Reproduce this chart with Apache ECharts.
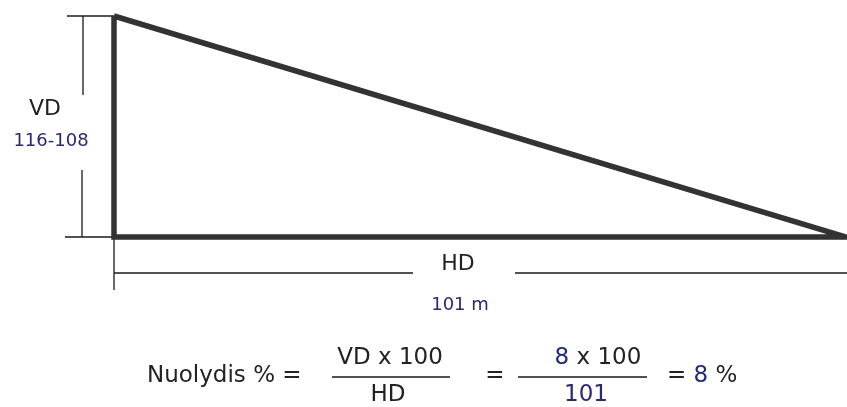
<!DOCTYPE html>
<html><head><meta charset="utf-8">
<script src="https://cdn.jsdelivr.net/npm/echarts@6/dist/echarts.min.js"></script>
<style>html,body{margin:0;padding:0;background:#fff}#c{width:847px;height:407px}</style>
</head><body><div id="c"></div>
<script>
// Diagram data (pixel-like diagram coordinates, y downwards)
const triangle = [[114,16],[114,237],[846,237],[114,16]];
const dimLines = [
  [[67,16],[114,16]], [[65,237],[114,237]],
  [[83,16],[83,95]], [[82,170],[82,237]],
  [[114,237],[114,290]],
  [[114,273],[413,273]], [[515,273],[847,273]],
  [[332,377],[450,377]], [[518,377],[647,377]]
];
const labels = [
  {text:'VD', at:[45,109], size:22, color:'#222', align:'center'},
  {text:'116-108', at:[51,141], size:18, color:'#2a2870', align:'center'},
  {text:'HD', at:[458,264], size:22, color:'#222', align:'center'},
  {text:'101 m', at:[460,305], size:18, color:'#2a2870', align:'center'},
  {text:'Nuolydis % =', at:[147,376], size:23, color:'#222', align:'left'},
  {text:'VD x 100', at:[390,358], size:23, color:'#222', align:'center'},
  {text:'HD', at:[388,395], size:23, color:'#222', align:'center'},
  {text:'=', at:[495,376], size:23, color:'#222', align:'center'},
  {text:'{b|8} x 100', at:[598,358], size:23, color:'#222', align:'center'},
  {text:'101', at:[586,395], size:23, color:'#2a2870', align:'center'},
  {text:'= {b|8} %', at:[667,376], size:23, color:'#222', align:'left'}
];

const chart = echarts.init(document.getElementById('c'));
const thinData = [];
dimLines.forEach((seg,i)=>{ if(i) thinData.push([null,null]); thinData.push(seg[0], seg[1]); });
const FONT = '"DejaVu Sans", Verdana, sans-serif';

chart.setOption({
  animation:false,
  grid:{left:0,right:0,top:0,bottom:0},
  xAxis:{type:'value',min:0,max:847,show:false},
  yAxis:{type:'value',min:0,max:407,inverse:true,show:false},
  series:[
    {type:'line',data:thinData,symbol:'none',connectNulls:false,
     lineStyle:{color:'#1a1a1a',width:1.3},silent:true},
    {type:'line',data:triangle,symbol:'none',
     lineStyle:{color:'#333',width:5.5,join:'miter'},silent:true},
    {type:'scatter',symbolSize:0,silent:true,itemStyle:{opacity:1},
     data:labels.map(l=>({value:l.at,label:{show:true,position:'inside',formatter:l.text,
       fontSize:l.size,color:l.color,align:l.align,verticalAlign:'middle',opacity:1,
       fontFamily:FONT,
       rich:{b:{fontSize:l.size,color:'#1f2a78',fontFamily:FONT}}}}))}
  ]
});
</script></body></html>
